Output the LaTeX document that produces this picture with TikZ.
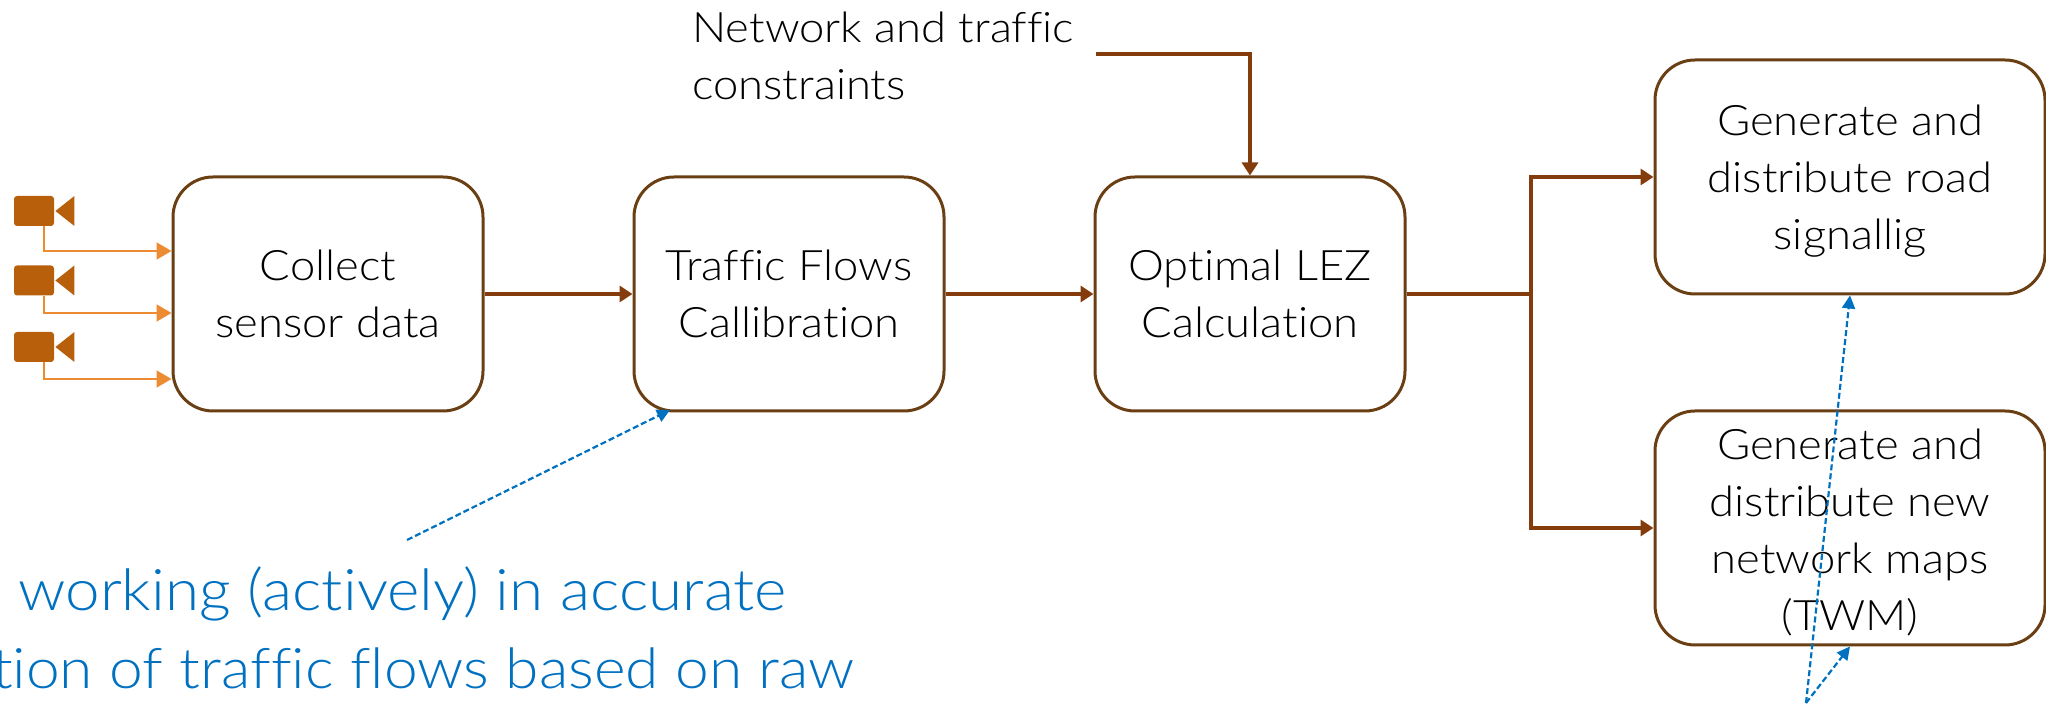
\documentclass[tikz,border=0pt]{standalone}
\usepackage{fontspec}
\setmainfont{Lato}[UprightFont=* Light, FakeStretch=1.08, Ligatures=NoCommon]
\usepackage{tikz}
\usetikzlibrary{arrows.meta,positioning,calc}
\definecolor{linkbrown}{HTML}{843C0C}
\definecolor{boxbrown}{HTML}{6B3F14}
\definecolor{sensororange}{HTML}{ED8B33}
\definecolor{camorange}{HTML}{B85F0B}
\definecolor{noteblue}{HTML}{0070C0}
\tikzset{
  stage/.style={draw=boxbrown, line width=1.5pt, rounded corners=20pt, fill=white, minimum width=155pt, minimum height=117pt, align=center, inner sep=0pt, font=\fontsize{21}{28.5}\selectfont},
  cam/.style={fill=camorange, rounded corners=1.5pt, minimum width=20pt, minimum height=15pt, inner sep=0pt},
  flow/.style={-{Triangle[length=6.5pt, width=8pt]}, draw=linkbrown, line width=1.9pt},
  sensorflow/.style={-{Triangle[length=7.5pt, width=8.5pt]}, draw=sensororange, line width=1pt},
  note/.style={-{Triangle[length=6.5pt, width=6.5pt]}, draw=noteblue, line width=1.1pt, dash pattern=on 3pt off 1.5pt},
}
\begin{document}
\begin{tikzpicture}[x=0.5pt,y=-0.5pt]
  \useasboundingbox (0,0) rectangle (2046,704);
  \node[stage] (collect) at (328,294) {Collect\\sensor data};
  \node[stage, right=74pt of collect] (calib) {Traffic Flows\\Callibration};
  \node[stage, right=74pt of calib] (lez) {Optimal LEZ\\Calculation};
  \node[stage, minimum width=195pt] (signal) at (1850,177) {\rule{0pt}{19.5pt}Generate and\\distribute road\\signallig};
  \node[stage, minimum width=195pt] (maps) at (1850,528) {\rule{0pt}{19.5pt}Generate and\\distribute new\\network maps\\(TWM)};
  \node[anchor=west, align=left, inner sep=0pt, font=\fontsize{21}{28.5}\selectfont] (constraints) at (692,56) {Network and traffic\\constraints};
  \node[anchor=west, inner sep=0pt, text=noteblue, font=\fontsize{28.7}{38.5}\selectfont] (workline) at (18,594) {working (actively) in accurate};
  \node[anchor=east, inner sep=0pt, text=noteblue, font=\fontsize{28}{38.5}\selectfont] (rawline) at (855,668) {tion of traffic flows based on raw};
  \foreach \i/\y/\t in {1/211/251, 2/280.5/313, 3/347/379}{
    \node[cam] (cam\i) at (34,\y) {};
    \fill[camorange] (cam\i.east) ++(1,0) -- ++(19,-15) -- ++(0,30) -- cycle;
    \coordinate (in\i) at (collect.west |- 0,\t);
    \draw[sensorflow] ([xshift=5pt]cam\i.south) |- (in\i);
  }
  \coordinate (constrstart) at (1096,54);
  \coordinate (split) at (1531,294);
  \coordinate (noteA) at (407,540);
  \coordinate (noteB) at (1806,703);
  \draw[flow] (collect) -- (calib);
  \draw[flow] (calib) -- (lez);
  \draw[flow] (constrstart) -| (lez.north);
  \draw[draw=linkbrown, line width=1.9pt] (lez.east) -- (split);
  \draw[flow] (split) |- (signal.west);
  \draw[flow] (split) |- (maps.west);
  \draw[note] (noteA) -- (670,410);
  \draw[note] (noteB) -- (signal.south);
  \draw[note] (noteB) -- (maps.south);
\end{tikzpicture}
\end{document}
